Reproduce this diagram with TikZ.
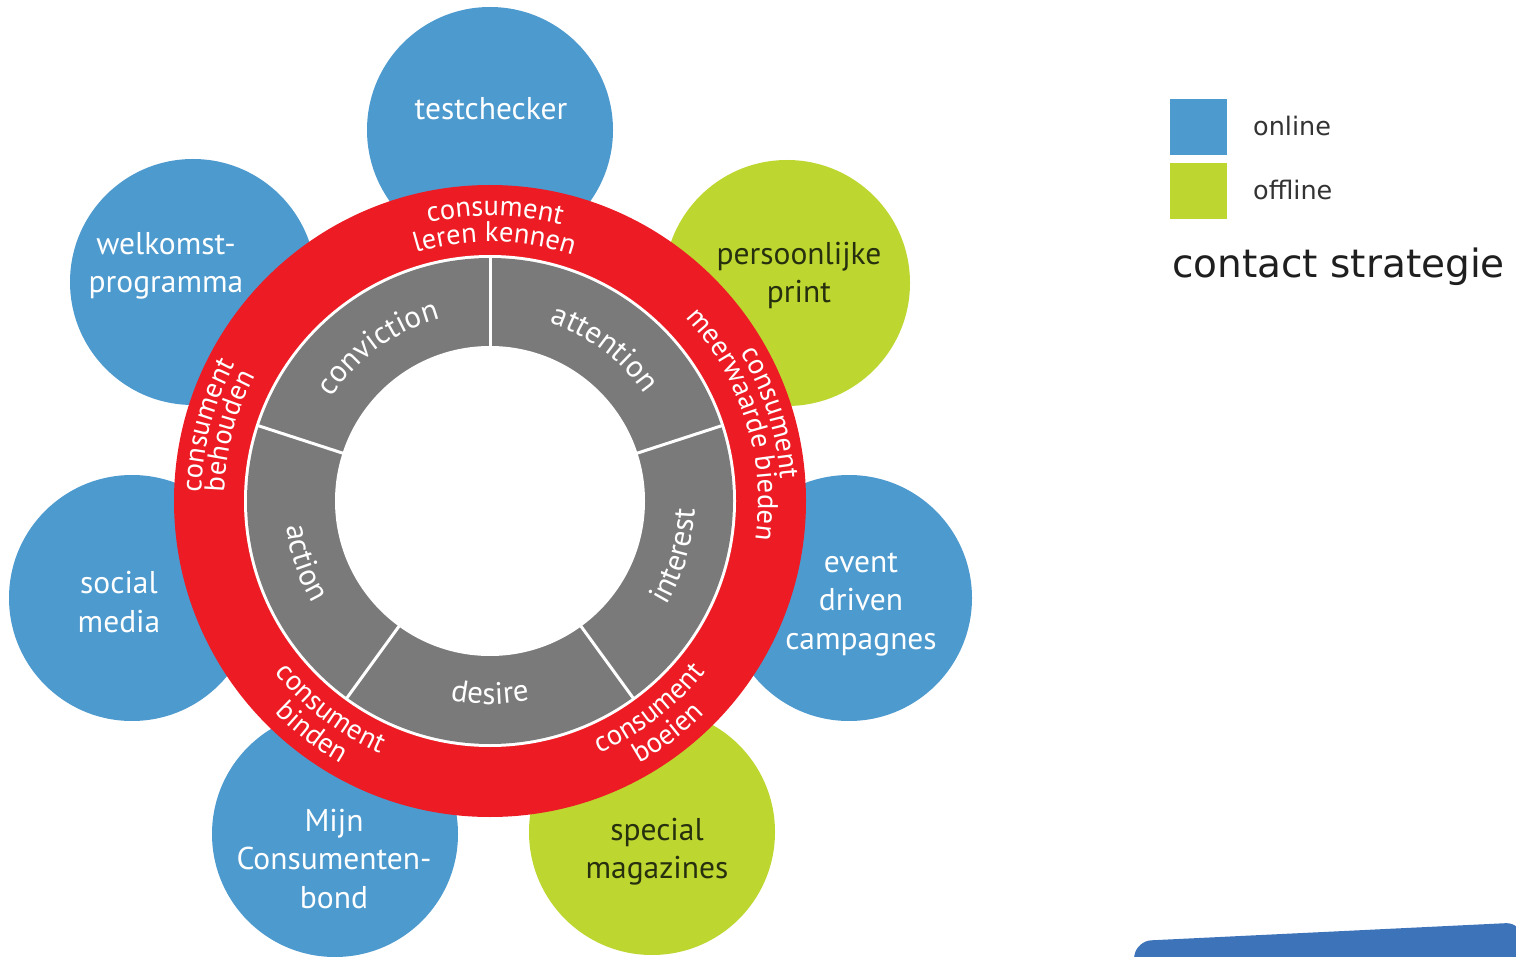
\documentclass[tikz,border=0pt]{standalone}
\usepackage{fontspec}
\setmainfont{PT Sans}
\newfontfamily\legfont{DejaVu Sans}
\usetikzlibrary{decorations.text,calc}
\definecolor{cblue}{HTML}{4D9ACF}
\definecolor{cgreen}{HTML}{BED630}
\definecolor{cred}{HTML}{ED1C24}
\definecolor{cgray}{HTML}{7A7A7A}
\definecolor{cdark}{HTML}{26300F}
\definecolor{cband}{HTML}{3D73B9}
\definecolor{clegtext}{HTML}{333333}
\newcommand\redfont{\fontsize{28.5}{28}\selectfont\color{white}}
\newcommand\grayfont{\fontsize{31}{31}\selectfont\color{white}}
% clockwise arc text (letters point outward)
\newcommand\cwtext[4]{%
  \path[decorate,decoration={text along path,text align=center,text={|#3|#4}}]
    ($(C)+({#1+70}:#2)$) arc[start angle={#1+70},end angle={#1-70},radius=#2];}
% counter-clockwise arc text (letters point inward)
\newcommand\ccwtext[4]{%
  \path[decorate,decoration={text along path,text align=center,text={|#3|#4}}]
    ($(C)+({#1-70}:#2)$) arc[start angle={#1-70},end angle={#1+70},radius=#2];}
\begin{document}
\begin{tikzpicture}[x=1pt,y=1pt,
  bubble/.style={circle,minimum size=246pt,inner sep=0pt,draw=none},
  onlinebub/.style={bubble,fill=cblue},
  offlinebub/.style={bubble,fill=cgreen},
  blabel/.style={align=center,inner sep=0pt,text=white,font=\fontsize{31.5}{38.5}\selectfont},
  glabel/.style={blabel,text=cdark},
  disk/.style={circle,inner sep=0pt,draw=none},
  keybox/.style={rectangle,inner sep=0pt,minimum width=57pt,minimum height=56pt,draw=none},
  keytext/.style={anchor=base west,inner sep=0pt,text=clegtext,font=\legfont\fontsize{25.5}{30}\selectfont},
  divider/.style={white,line width=3pt}
]
\useasboundingbox (0,0) rectangle (1516,-957);
\fill[white] (0,0) rectangle (1516,-957);

% outer bubbles
\node[onlinebub]  (b-test)  at (490,-130) {};
\node[onlinebub]  (b-welk)  at (193,-282) {};
\node[offlinebub] (b-print) at (787,-283) {};
\node[onlinebub]  (b-soc)   at (132,-598) {};
\node[onlinebub]  (b-event) at (849,-598) {};
\node[onlinebub]  (b-mijn)  at (335,-834) {};
\node[offlinebub] (b-spec)  at (652,-832) {};

% wheel
\coordinate (C) at (490,-501);
\node[disk,fill=cred,minimum size=632pt]   (redring)  at (C) {};
\node[disk,fill=white,minimum size=492pt]  (sep)      at (C) {};
\node[disk,fill=cgray,minimum size=486pt]  (grayring) at (C) {};
\node[disk,fill=white,minimum size=310pt]  (hole)     at (C) {};
\foreach \a in {18,90,162,234,306}
  \draw[divider] ($(C)+(\a:153)$) -- ($(C)+(\a:245)$);

% bubble labels
\node[blabel,anchor=base] (t-test) at (491,-120) {testchecker};
\node[blabel] (t-welk)  at (166,-266) {welkomst-\\programma};
\node[glabel] (t-print) at (799,-275.5) {persoonlijke\\print};
\node[blabel] (t-soc)   at (119,-602) {social\\media};
\node[blabel] (t-event) at (861,-604.5) {event\\driven\\campagnes};
\node[blabel] (t-mijn)  at (334,-859) {Mijn\\Consumenten-\\bond};
\node[glabel] (t-spec)  at (657,-851.5) {special\\magazines};

% red ring texts
\cwtext{89}{285}{\redfont}{consument}
\cwtext{89}{259}{\redfont}{leren kennen}
\cwtext{17.5}{291}{\redfont}{consument}
\cwtext{17.5}{268}{\redfont}{meerwaarde bieden}
\cwtext{165}{289}{\redfont}{consument}
\cwtext{165}{266}{\redfont}{behouden}
\ccwtext{232.5}{275}{\redfont}{consument}
\ccwtext{232.5}{302}{\redfont}{binden}
\ccwtext{307.5}{275}{\redfont}{consument}
\ccwtext{307.5}{302}{\redfont}{boeien}

% gray ring texts
\cwtext{126}{189}{\grayfont}{conviction}
\cwtext{53}{188}{\grayfont}{attention}
\ccwtext{-16.5}{205}{\grayfont}{interest}
\ccwtext{270}{203}{\grayfont}{desire}
\ccwtext{198.5}{205}{\grayfont}{action}

% legend
\node[keybox,fill=cblue]  (k-on)  at (1198.5,-127) {};
\node[keybox,fill=cgreen] (k-off) at (1198.5,-191.5) {};
\node[keytext] (l-on)  at (1253,-136) {online};
\node[keytext] (l-off) at (1253,-200) {offline};
\node[anchor=base west,inner sep=0pt,text=black!88,font=\legfont\fontsize{39}{44}\selectfont]
  (title) at (1172,-278) {contact strategie};

% bottom-right band
\fill[cband,rounded corners=14pt] (1131,-975) -- (1137,-941) -- (1520,-922.5) -- (1530,-975) -- cycle;
\end{tikzpicture}
\end{document}
